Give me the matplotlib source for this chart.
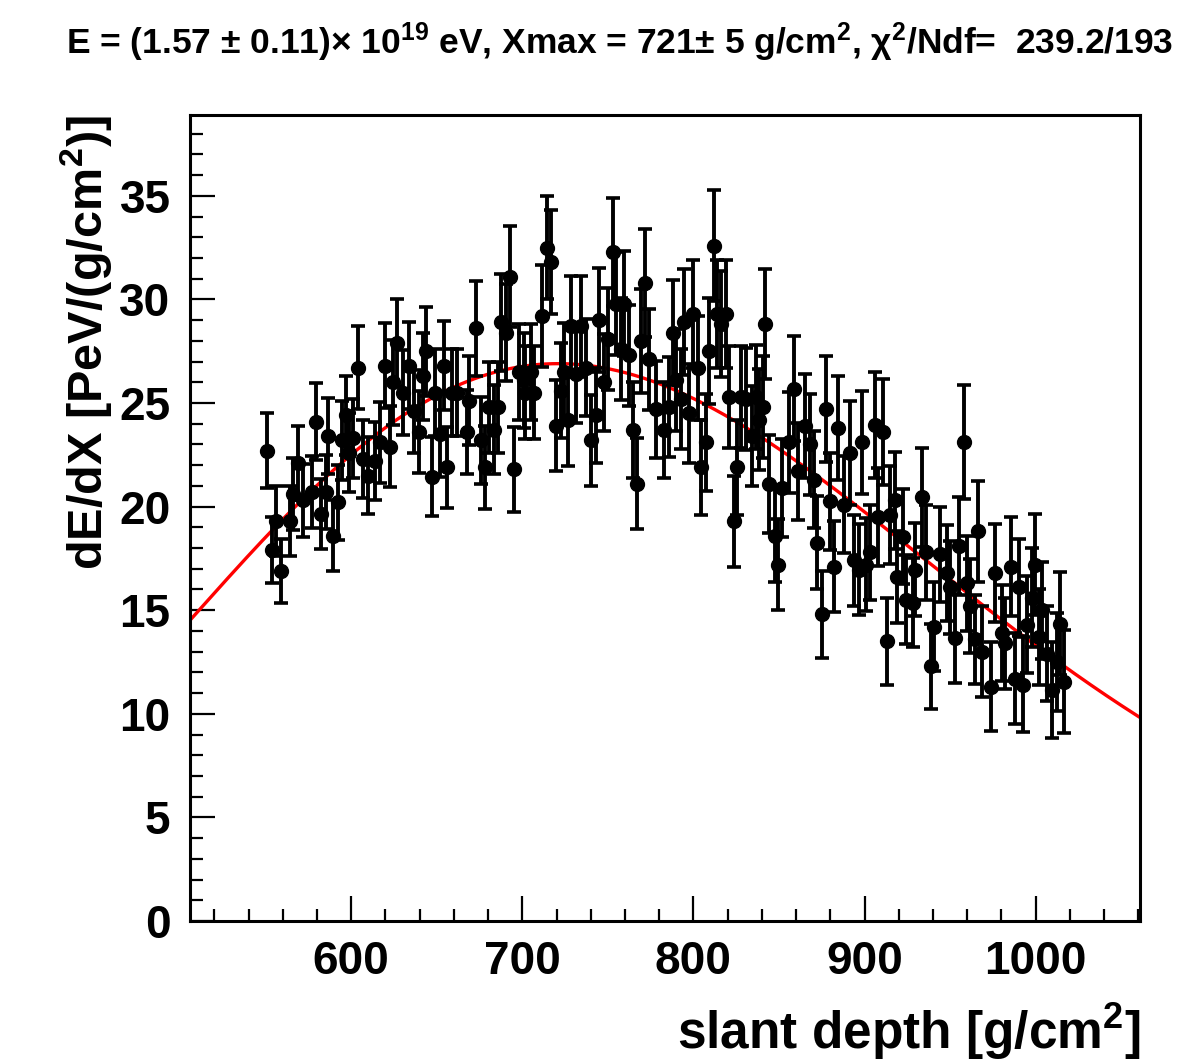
import numpy as np
import matplotlib
matplotlib.use("Agg")
import matplotlib.pyplot as plt
from matplotlib.ticker import MultipleLocator

plt.rcParams['font.family'] = ['Liberation Sans', 'DejaVu Sans']
plt.rcParams['font.weight'] = 'bold'
plt.rcParams['mathtext.fontset'] = 'custom'
plt.rcParams['mathtext.rm'] = 'Liberation Sans:bold'
plt.rcParams['mathtext.it'] = 'Liberation Sans:bold:italic'
plt.rcParams['mathtext.bf'] = 'Liberation Sans:bold'
plt.rcParams['mathtext.default'] = 'rm'

# slant depth of each measured bin [g/cm^2]
depth = [
    551, 554, 556, 559, 564.4, 566, 569, 572, 577, 579.5, 582.5, 585, 586.6, 589.6, 592.3, 594.6, 597, 599, 601,
    604, 607, 610, 614, 617, 620, 622.5, 624.5, 627, 630, 634, 636.5, 639.4, 642, 644, 647, 649, 651.7, 654, 656, 659,
    662, 667.5, 668.7, 672.8, 675.7, 678, 680.4, 683.3, 685.6, 687.8, 690.4, 692.7, 695, 698, 701, 701.5, 705, 707, 711.8, 714.7,
    716.7, 719.6, 722.6, 724.4, 726.5, 728.4, 731.4, 734.3, 737.2, 740, 743, 745, 747.8, 750, 752.9, 754.8, 757.7, 759.5, 762.4, 764.6,
    767, 769.4, 771.8, 774, 778, 783, 786, 788, 790, 793, 794.6, 797.5, 799.7, 802.6, 804.6, 807.5, 809.3, 812, 814, 816.3,
    819.2, 821, 824, 825.7, 828, 831, 834, 836.8, 838.5, 840.7, 842, 844.4, 847.5, 849.5, 852, 856, 858.8, 861, 865, 868,
    870.6, 872, 875.3, 877.2, 879.6, 882.3, 884.7, 888, 891.5, 894, 896.7, 898.3, 901, 903, 906, 908, 911, 913, 915, 917.8,
    918.8, 922.7, 924.5, 928.4, 929.3, 933.7, 935.7, 938.8, 940.5, 944, 948, 950, 953, 955, 958, 960, 961.8, 964.8, 966.3, 968.5,
    974.2, 976, 980.4, 982.3, 985.8, 988.2, 990.2, 992.5, 995, 998, 999.9, 1001.8, 1003.8, 1006.7, 1009.6, 1012.5, 1014.5, 1016.5,
]

# energy deposit dE/dX [PeV/(g/cm^2)]
dedx = [
    22.7, 17.9, 19.3, 16.9, 19.3, 20.6, 22.1, 20.3, 20.7, 24.1, 19.65, 20.7, 23.4, 18.6, 20.2, 23.2, 24.4, 22.6, 23.3,
    26.7, 22.3, 21.5, 22.2, 23.1, 26.8, 22.9, 26.0, 27.9, 25.5, 26.8, 24.6, 23.6, 26.3, 27.5, 21.45, 25.5, 23.5, 26.8, 21.9, 25.5,
    25.5, 23.6, 25.1, 28.6, 23.2, 21.9, 24.8, 23.7, 24.8, 28.9, 28.4, 31.1, 21.8, 26.5, 26.1, 25.5, 26.5, 25.5, 29.2, 32.5,
    31.8, 23.9, 25.6, 26.5, 24.2, 28.7, 26.4, 28.7, 26.7, 23.2, 24.4, 29.0, 26.0, 28.1, 32.3, 29.8, 27.6, 29.8, 27.3, 23.7,
    21.1, 28.0, 30.8, 27.1, 24.7, 23.7, 24.8, 28.4, 26.1, 25.2, 28.9, 24.5, 29.3, 26.7, 21.9, 23.1, 27.5, 32.6, 29.3, 28.8,
    29.3, 25.3, 19.3, 21.9, 25.3, 25.2, 23.4, 25.3, 24.2, 24.8, 28.8, 21.1, 18.6, 17.2, 20.9, 23.1, 25.7, 21.7, 23.9, 23.0,
    21.3, 18.25, 14.8, 24.7, 20.25, 17.1, 23.8, 20.1, 22.6, 17.4, 16.95, 23.1, 17.2, 17.8, 23.95, 19.5, 23.6, 13.5, 19.6, 20.3,
    16.6, 18.55, 15.5, 15.35, 16.95, 20.45, 17.8, 12.3, 14.2, 17.7, 16.8, 16.1, 13.65, 18.1, 23.1, 16.3, 15.2, 13.6, 18.8, 13.0,
    11.3, 16.8, 13.9, 13.4, 17.1, 11.7, 16.1, 11.4, 14.3, 15.6, 17.2, 13.7, 15.0, 12.9, 11.15, 12.5, 14.35, 11.55,
]

# statistical uncertainty of each bin
dedx_err = [
    1.8, 1.6, 1.7, 1.55, 1.7, 1.75, 1.8, 1.75, 1.75, 1.85, 1.7, 1.8, 1.85, 1.7, 1.8, 1.9, 1.9, 1.9, 1.9,
    2.0, 1.9, 1.85, 1.9, 1.95, 2.05, 1.95, 2.05, 2.1, 2.05, 2.1, 2.0, 2.0, 2.1, 2.15, 1.9, 2.1, 2.05, 2.15, 1.95, 2.1,
    2.1, 2.05, 2.15, 2.3, 2.1, 2.0, 2.2, 2.15, 2.2, 2.35, 2.35, 2.45, 2.05, 2.3, 2.3, 2.25, 2.3, 2.25, 2.45, 2.5,
    2.5, 2.2, 2.3, 2.35, 2.25, 2.45, 2.35, 2.45, 2.35, 2.2, 2.3, 2.5, 2.35, 2.45, 2.6, 2.5, 2.45, 2.55, 2.45, 2.3,
    2.2, 2.5, 2.6, 2.45, 2.35, 2.3, 2.4, 2.55, 2.45, 2.4, 2.55, 2.4, 2.6, 2.5, 2.3, 2.35, 2.55, 2.7, 2.6, 2.55,
    2.6, 2.45, 2.2, 2.3, 2.45, 2.45, 2.4, 2.5, 2.45, 2.45, 2.65, 2.35, 2.25, 2.2, 2.35, 2.45, 2.55, 2.35, 2.5, 2.45,
    2.35, 2.25, 2.1, 2.55, 2.35, 2.2, 2.5, 2.35, 2.5, 2.2, 2.2, 2.5, 2.25, 2.3, 2.55, 2.35, 2.55, 2.1, 2.35, 2.35,
    2.2, 2.3, 2.15, 2.15, 2.25, 2.4, 2.3, 2.05, 2.15, 2.3, 2.3, 2.25, 2.15, 2.35, 2.75, 2.3, 2.25, 2.15, 2.45, 2.2,
    2.15, 2.35, 2.3, 2.2, 2.4, 2.2, 2.35, 2.3, 2.35, 2.4, 2.45, 2.3, 2.35, 2.3, 2.3, 2.35, 2.5, 2.5,
]

# Gaisser-Hillas fit parameters
gh_xmax = 721.0
gh_dedx_max = 26.9
gh_x0 = -121.0
gh_lambda = 54.0

x_range = (505.8, 1061.0)
y_range = (0.0, 38.9)


def gaisser_hillas(x):
    w = (gh_xmax - gh_x0) / gh_lambda
    return gh_dedx_max * ((x - gh_x0) / (gh_xmax - gh_x0)) ** w * np.exp((gh_xmax - x) / gh_lambda)


fig = plt.figure(figsize=(11.8, 10.64), dpi=100)
ax = fig.add_axes([190 / 1180, 1 - 921 / 1064, 950 / 1180, 806 / 1064])

xf = np.linspace(x_range[0], x_range[1], 800)
ax.plot(xf, gaisser_hillas(xf), color='#ff0000', lw=2.4, zorder=2)

ax.errorbar(depth, dedx, yerr=dedx_err, fmt='o', color='black', ms=10,
            elinewidth=2.8, capsize=5, capthick=2.6, zorder=3)

ax.set_xlim(*x_range)
ax.set_ylim(*y_range)

ax.xaxis.set_major_locator(MultipleLocator(100))
ax.xaxis.set_minor_locator(MultipleLocator(20))
ax.yaxis.set_major_locator(MultipleLocator(5))
ax.yaxis.set_minor_locator(MultipleLocator(1))
ax.tick_params(which='both', direction='in', top=False, right=False, width=1.6)
ax.tick_params(which='major', length=18, labelsize=33)
ax.tick_params(axis='x', which='major', pad=14)
ax.tick_params(axis='y', which='major', pad=14)
ax.tick_params(which='minor', length=9)
for lab in ax.get_xticklabels() + ax.get_yticklabels():
    lab.set_fontweight('bold')
for sp in ax.spines.values():
    sp.set_linewidth(2.2)

ax.set_xlabel('slant depth [g/cm$^{2}$]', fontsize=37, fontweight='bold', loc='right', labelpad=12)
ax.set_ylabel('dE/dX [PeV/(g/cm$^{2}$)]', fontsize=35, fontweight='bold', loc='top', labelpad=3.5)

fig.text(620 / 1180, 1 - 42 / 1064,
         'E = (1.57 \u00b1 0.11)\u00d7 10$^{19}$ eV, Xmax = 721\u00b1 5 g/cm$^{2}$, \u03c7$^{2}$/Ndf=  239.2/193',
         ha='center', va='center', fontsize=25.5, fontweight='bold')

fig.savefig('out.png', dpi=100)
